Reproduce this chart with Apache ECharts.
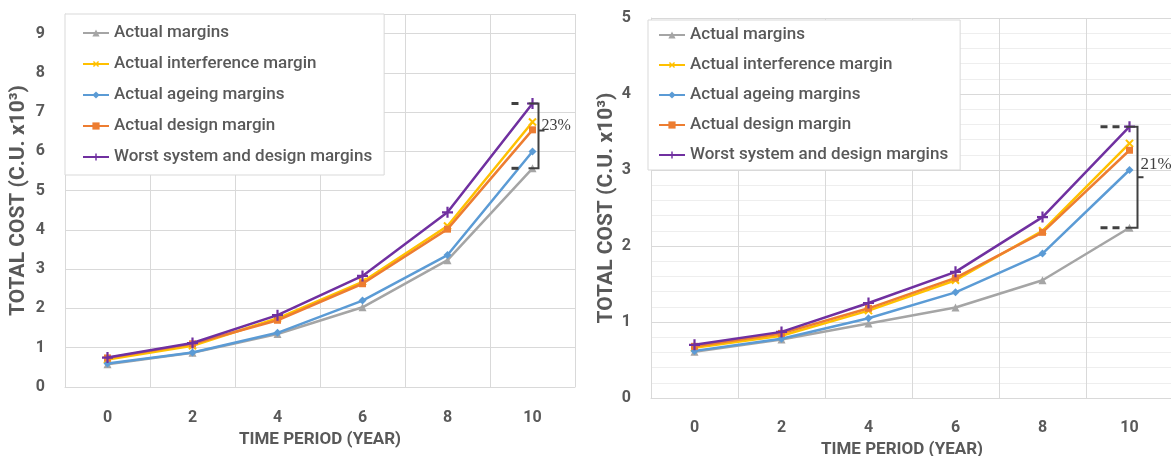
<!DOCTYPE html>
<html>
<head>
<meta charset="utf-8">
<script src="https://cdn.jsdelivr.net/npm/echarts@6/dist/echarts.min.js"></script>
<style>
  html, body { margin: 0; padding: 0; background: #fff; }
  #main { width: 1171px; height: 456px; }
</style>
</head>
<body>
<div id="main"></div>
<script type="text/javascript">
    // chart data
    var years = ['0', '2', '4', '6', '8', '10'];
    var seriesNames = ['Actual margins', 'Actual interference margin', 'Actual ageing margins',
                       'Actual design margin', 'Worst system and design margins'];

    // left panel
    var leftActual       = [0.58, 0.87, 1.35, 2.03, 3.23, 5.57];
    var leftInterference = [0.70, 1.05, 1.75, 2.68, 4.10, 6.75];
    var leftAgeing       = [0.60, 0.88, 1.38, 2.20, 3.36, 6.00];
    var leftDesign       = [0.74, 1.10, 1.70, 2.63, 4.02, 6.55];
    var leftWorst        = [0.75, 1.12, 1.83, 2.83, 4.45, 7.22];

    // right panel
    var rightActual       = [0.61, 0.77, 0.98, 1.19, 1.55, 2.24];
    var rightInterference = [0.66, 0.82, 1.15, 1.55, 2.20, 3.35];
    var rightAgeing       = [0.62, 0.78, 1.05, 1.39, 1.90, 3.00];
    var rightDesign       = [0.68, 0.85, 1.18, 1.58, 2.18, 3.26];
    var rightWorst        = [0.70, 0.87, 1.25, 1.66, 2.38, 3.57];

    var leftTicks = [0, 1, 2, 3, 4, 5, 6, 7, 8, 9];
    var rightTicks = [0, 1, 2, 3, 4, 5];

    var colors = ['#A5A5A5', '#FFC000', '#5B9BD5', '#ED7D31', '#7030A0'];
    var plusPath = 'path://M4,0H6V4H10V6H6V10H4V6H0V4H4Z';
    var symbols = ['triangle', plusPath, 'diamond', 'rect', plusPath];
    var symbolRot = [0, 45, 0, 0, 0];
    var symbolSizes = [8, 10, 8, 7, 11];

    var font = "'Roboto', sans-serif";
    var textGray = '#595959';
    var gridGray = '#d9d9d9';

    var dom = document.getElementById('main');
    var myChart = echarts.init(dom);

    function makeSeries(data, idx) {
        var out = [];
        for (var i = 0; i < data.length; i++) {
            out.push({
                name: seriesNames[i],
                type: 'line',
                xAxisIndex: idx,
                yAxisIndex: idx,
                data: data[i],
                color: colors[i],
                symbol: symbols[i],
                symbolRotate: symbolRot[i],
                symbolSize: symbolSizes[i],
                showAllSymbol: true,
                lineStyle: { width: 2.5 },
                animation: false,
                z: 2 + i
            });
        }
        return out;
    }

    function legendBox(left, top, pad, gap) {
        return {
            orient: 'vertical',
            left: left,
            top: top,
            padding: pad,
            itemGap: gap,
            itemWidth: 26,
            itemHeight: 9,
            backgroundColor: '#fff',
            borderColor: gridGray,
            borderWidth: 1,
            textStyle: { fontFamily: font, fontSize: 17, fontWeight: 500, color: textGray, lineHeight: 18 },
            data: seriesNames
        };
    }

    var series = makeSeries([leftActual, leftInterference, leftAgeing, leftDesign, leftWorst], 0)
        .concat(makeSeries([rightActual, rightInterference, rightAgeing, rightDesign, rightWorst], 1));

    option = {
        backgroundColor: '#fff',
        animation: false,
        legend: [
            legendBox(65, 14, [10, 12, 9, 17], 13),
            legendBox(648, 20, [6, 12, 6, 10], 12)
        ],
        grid: [
            { left: 65, top: 14, width: 510, height: 373, outerBoundsMode: 'none' },
            { left: 651, top: 18, width: 522, height: 380, outerBoundsMode: 'none' }
        ],
        xAxis: [
            {
                type: 'category', gridIndex: 0, data: years,
                name: 'TIME PERIOD (YEAR)', nameLocation: 'middle', nameGap: 39,
                nameTextStyle: { fontFamily: font, fontSize: 17, fontWeight: 'bold', color: textGray },
                axisLine: { lineStyle: { color: gridGray } },
                axisTick: { show: false },
                axisLabel: { margin: 23, fontFamily: font, fontSize: 16, fontWeight: 'bold', color: textGray },
                splitLine: { show: true, interval: 0, lineStyle: { color: gridGray } }
            },
            {
                type: 'category', gridIndex: 1, data: years,
                name: 'TIME PERIOD (YEAR)', nameLocation: 'middle', nameGap: 42,
                nameTextStyle: { fontFamily: font, fontSize: 17, fontWeight: 'bold', color: textGray, padding: [0, 20, 0, 0] },
                axisLine: { lineStyle: { color: gridGray } },
                axisTick: { show: false },
                axisLabel: { margin: 22, fontFamily: font, fontSize: 16, fontWeight: 'bold', color: textGray },
                splitLine: { show: true, interval: 0, lineStyle: { color: gridGray } }
            }
        ],
        yAxis: [
            {
                type: 'value', gridIndex: 0, min: 0, max: 9.5, interval: 1,
                name: 'TOTAL COST (C.U. x10³)', nameLocation: 'middle', nameGap: 36,
                nameTextStyle: { fontFamily: font, fontSize: 21, fontWeight: 'bold', color: textGray },
                axisLine: { show: true, lineStyle: { color: gridGray } },
                axisTick: { show: false },
                axisLabel: {
                    margin: 20, fontFamily: font, fontSize: 16, fontWeight: 'bold', color: textGray,
                    formatter: function (v) { return leftTicks.indexOf(v) >= 0 ? String(v) : ''; }
                },
                splitLine: { lineStyle: { color: gridGray } }
            },
            {
                type: 'value', gridIndex: 1, min: 0, max: 5, interval: 1,
                name: 'TOTAL COST (C.U. x10³)', nameLocation: 'middle', nameGap: 34,
                nameTextStyle: { fontFamily: font, fontSize: 21, fontWeight: 'bold', color: textGray },
                axisLine: { show: true, lineStyle: { color: gridGray } },
                axisTick: { show: false },
                axisLabel: {
                    margin: 20, fontFamily: font, fontSize: 16, fontWeight: 'bold', color: textGray,
                    formatter: function (v) { return rightTicks.indexOf(v) >= 0 ? String(v) : ''; }
                },
                splitLine: { lineStyle: { color: gridGray } },
                minorTick: { show: false, splitNumber: 5 },
                minorSplitLine: { show: true, lineStyle: { color: '#eeeeee' } }
            }
        ],
        series: series
    };
    myChart.setOption(option, true);

    // bracket annotations at year 10, placed through the chart's own scales
    var pctLabels = ['23%', '21%'];
    var bracketTop = [leftWorst[5], rightWorst[5]];
    var bracketBottom = [leftActual[5], rightActual[5]];
    var elements = [];
    for (var g = 0; g < 2; g++) {
        var pTop = myChart.convertToPixel({ gridIndex: g }, [5, bracketTop[g]]);
        var pBot = myChart.convertToPixel({ gridIndex: g }, [5, bracketBottom[g]]);
        var bx = pTop[0] + (g === 0 ? 6 : 8);
        var midY = g === 0 ? pTop[1] + 27 : (pTop[1] + pBot[1]) / 2;
        var dashL = pTop[0] - (g === 0 ? 21 : 29);
        var dashR = pTop[0] - (g === 0 ? 12 : 10);
        var stroke = { stroke: '#404040', lineWidth: 2 };
        elements.push(
            { type: 'polyline', shape: { points: [[pTop[0] - 4, pTop[1]], [bx, pTop[1]], [bx, pBot[1]], [pTop[0] - 4, pBot[1]]] }, style: stroke, z: 20 },
            { type: 'line', shape: { x1: bx, y1: midY, x2: bx + 6, y2: midY }, style: stroke, z: 20 },
            { type: 'line', shape: { x1: dashL, y1: pTop[1], x2: dashR, y2: pTop[1] }, style: { stroke: '#404040', lineWidth: 3, lineDash: [7, 5] }, z: 20 },
            { type: 'line', shape: { x1: dashL, y1: pBot[1], x2: dashR, y2: pBot[1] }, style: { stroke: '#404040', lineWidth: 3, lineDash: [7, 5] }, z: 20 },
            {
                type: 'text', x: bx + 3, y: midY - (g === 0 ? 5 : 13), z: 21,
                style: { text: pctLabels[g], font: (g === 0 ? '16px' : '17px') + " 'Liberation Serif', serif", fill: '#404040', textVerticalAlign: 'middle' }
            }
        );
    }
    myChart.setOption({ graphic: elements });
</script>
</body>
</html>
